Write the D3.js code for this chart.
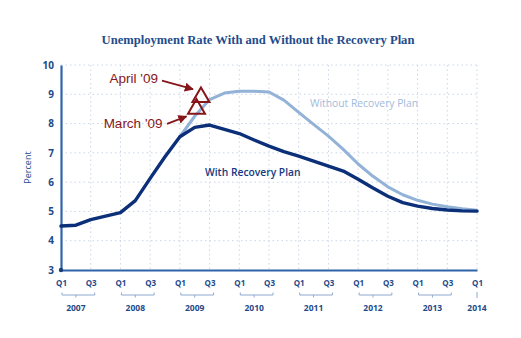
<!DOCTYPE html>
<html><head><meta charset="utf-8">
<script src="https://cdn.jsdelivr.net/npm/d3@7"></script>
<style>body{margin:0;background:#fff;}svg{display:block;}</style>
</head><body>
<svg id="c" width="521" height="338"></svg>
<script>
// ---- data ----
const quarterLabels = ["Q1","Q2","Q3","Q4"];
const years = ["2007","2008","2009","2010","2011","2012","2013","2014"];
const yTicks = [3,4,5,6,7,8,9,10];
// quarterly index 0 = 2007 Q1 ... 28 = 2014 Q1
const withPlan = [4.50,4.53,4.72,4.84,4.96,5.37,6.13,6.87,7.55,7.87,7.95,7.80,7.66,7.44,7.23,7.04,6.89,6.72,6.55,6.38,6.10,5.80,5.52,5.30,5.18,5.10,5.05,5.02,5.01];
const withoutStart = 8;
const withoutPlan = [7.55,8.25,8.82,9.04,9.10,9.10,9.08,8.80,8.38,7.97,7.57,7.12,6.62,6.20,5.84,5.57,5.38,5.25,5.16,5.09,5.04];
const markerLabels = ["April '09","March '09"];
const markerQuarter = [9.42, 9.12];
const markerValue = [8.9, 8.5];

// ---- layout ----
const svg = d3.select("#c");
const x = d3.scaleLinear().domain([0,28]).range([61,477]);
const y = d3.scaleLinear().domain([3,10]).range([270,65]);
const axisColor = "#2f63aa", textBlue = "#1d4a8a";

svg.append("text").attr("x",258).attr("y",44).attr("text-anchor","middle")
  .attr("font-family","Liberation Serif, serif").attr("font-weight","bold")
  .attr("font-size",12.6).attr("fill","#1f4c8c")
  .text("Unemployment Rate With and Without the Recovery Plan");

// grid
const grid = svg.append("g").attr("stroke","#c9d6e6").attr("stroke-width",1).attr("stroke-dasharray","1.5,3");
yTicks.filter(v=>v>3).forEach(v=>{
  grid.append("line").attr("x1",x(0)).attr("x2",x(28)).attr("y1",y(v)).attr("y2",y(v));
});
d3.range(2,29,2).forEach(q=>{
  grid.append("line").attr("x1",x(q)).attr("x2",x(q)).attr("y1",y(10)).attr("y2",y(3));
});

// y axis
const yAxis = d3.axisLeft(y).tickValues(yTicks).tickSize(0).tickPadding(7).tickFormat(d3.format("d"));
const ya = svg.append("g").attr("transform",`translate(${x(0)},0)`).call(yAxis);
ya.select(".domain").attr("stroke",axisColor).attr("stroke-width",2.2);
ya.selectAll("text").attr("font-family","Open Sans, sans-serif").attr("font-weight","bold")
  .attr("font-size",10).attr("fill",textBlue);
svg.append("text").attr("transform",`translate(31,${y(6.5)}) rotate(-90)`).attr("text-anchor","middle")
  .attr("font-family","Open Sans, sans-serif").attr("font-size",9).attr("fill",textBlue).text("Percent");

// x axis
const qTicks = d3.range(0,29,2);
const xAxis = d3.axisBottom(x).tickValues(qTicks).tickSize(0).tickPadding(10)
  .tickFormat(q=>quarterLabels[q%4]);
const xa = svg.append("g").attr("transform",`translate(0,${y(3)})`).call(xAxis);
xa.select(".domain").attr("stroke",axisColor).attr("stroke-width",2.2);
xa.selectAll("text").attr("font-family","Open Sans, sans-serif").attr("font-weight","bold")
  .attr("font-size",8).attr("fill",textBlue);
svg.append("circle").attr("cx",x(0)).attr("cy",y(3)).attr("r",2.2).attr("fill","#1a3f7a");

// year braces
const braceY = 295;
years.forEach((yr,i)=>{
  const q0 = i*4, g = svg.append("g").attr("stroke","#8fa9cf").attr("stroke-width",1).attr("fill","none");
  let mid;
  if (q0+2 <= 28) {
    const a = x(q0)+1, b = x(q0+2)+4; mid = (x(q0)+x(q0+2))/2;
    g.append("path").attr("d",`M${a},${braceY-2.5}V${braceY}H${b}V${braceY-2.5}M${mid},${braceY}V${braceY+2.5}`);
  } else {
    mid = x(q0);
    g.append("path").attr("d",`M${mid},${braceY-3}V${braceY+3}`);
  }
  svg.append("text").attr("x",mid).attr("y",311).attr("text-anchor","middle")
    .attr("font-family","Open Sans, sans-serif").attr("font-weight","bold")
    .attr("font-size",8.5).attr("fill",textBlue).text(yr);
});

// lines
const line = d3.line().x(d=>x(d[0])).y(d=>y(d[1]));
svg.append("path").datum(withoutPlan.map((v,i)=>[i+withoutStart,v]))
  .attr("d",line).attr("fill","none").attr("stroke","#93b2d8").attr("stroke-width",3)
  .attr("stroke-linejoin","round").attr("stroke-linecap","round");
svg.append("path").datum(withPlan.map((v,i)=>[i,v]))
  .attr("d",line).attr("fill","none").attr("stroke","#0b2f78").attr("stroke-width",3.4)
  .attr("stroke-linejoin","round").attr("stroke-linecap","round");

svg.append("text").attr("x",310).attr("y",107).attr("font-family","Open Sans, sans-serif")
  .attr("font-size",10.3).attr("fill","#9fbbdc").text("Without Recovery Plan");
svg.append("text").attr("x",205).attr("y",176).attr("font-family","Open Sans, sans-serif")
  .attr("font-weight",600).attr("font-size",10.3).attr("fill","#143a80").text("With Recovery Plan");

// markers and annotations
const red = "#86161a";
svg.append("defs").append("marker").attr("id","ah").attr("viewBox","0 0 10 10")
  .attr("refX",9).attr("refY",5).attr("markerWidth",5).attr("markerHeight",5).attr("orient","auto")
  .append("path").attr("d","M0,0L10,5L0,10z").attr("fill",red);
const tri = d3.symbol().type(d3.symbolTriangle).size(125);
const labelOff = [{tx:-43,ty:-14,x1:-39,y1:-16.5,x2:-8,y2:-8},{tx:-34,ty:19.5,x1:-29.5,y1:15,x2:-10,y2:7.5}];
markerLabels.forEach((lab,i)=>{
  const cx = x(markerQuarter[i]), cy = y(markerValue[i]), o = labelOff[i];
  svg.append("path").attr("d",tri()).attr("transform",`translate(${cx},${cy})`)
    .attr("fill","none").attr("stroke",red).attr("stroke-width",2);
  svg.append("line").attr("x1",cx+o.x1).attr("y1",cy+o.y1).attr("x2",cx+o.x2).attr("y2",cy+o.y2)
    .attr("stroke",red).attr("stroke-width",1.8).attr("marker-end","url(#ah)");
  svg.append("text").attr("x",cx+o.tx).attr("y",cy+o.ty).attr("text-anchor","end")
    .attr("font-family","Liberation Sans, Arial, sans-serif").attr("font-size",13.5)
    .attr("fill",red).text(lab);
});
</script>
</body></html>
